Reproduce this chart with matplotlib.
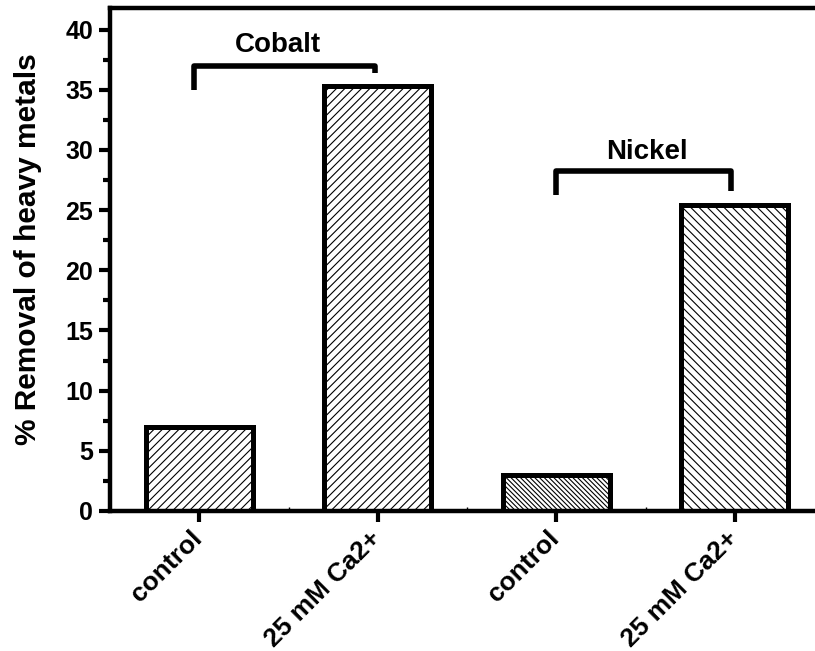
"""Bar chart: % removal of cobalt and nickel, control vs 25 mM Ca2+."""

import matplotlib

matplotlib.use("Agg")
from matplotlib import pyplot as plt  # noqa: E402
from matplotlib import transforms  # noqa: E402
from matplotlib.ticker import MultipleLocator  # noqa: E402

plt.rcParams["font.family"] = ["Liberation Sans", "DejaVu Sans"]
plt.rcParams["font.weight"] = "bold"
plt.rcParams["hatch.linewidth"] = 0.8

categories = ["control", "25 mM Ca2+", "control", "25 mM Ca2+"]
removal = [7.0, 35.3, 3.0, 25.4]
hatches = ["////", "////", "\\" * 7, "\\" * 4]
groups = ["Cobalt", "Nickel"]

fig = plt.figure(figsize=(8.15, 6.51), dpi=100)
ax = fig.add_axes([110 / 815, 140 / 651, 714 / 815, 503 / 651])

positions = list(range(1, len(categories) + 1))
for x, h, hatch in zip(positions, removal, hatches):
    ax.bar(x, h, width=0.6, facecolor="white", edgecolor="black",
           linewidth=3.6, hatch=hatch, zorder=2)

# group brackets
bracket_lw = 4.0
ax.plot([0.97, 0.97, 1.985, 1.985], [35.0, 36.95, 36.95, 36.4],
        color="black", lw=bracket_lw, solid_capstyle="butt", clip_on=False)
ax.text(1.44, 38.75, groups[0], ha="center", va="center", fontsize=20,
        fontweight="bold")
ax.plot([3.0, 3.0, 3.98, 3.98], [26.3, 28.25, 28.25, 26.6],
        color="black", lw=bracket_lw, solid_capstyle="butt", clip_on=False)
ax.text(3.51, 29.85, groups[1], ha="center", va="center", fontsize=20,
        fontweight="bold")

ax.set_xlim(0.5, 4.5)
ax.set_ylim(0, 41.8)
ax.set_xticks(positions)
ax.set_xticklabels(categories, rotation=45, ha="right", va="top",
                   rotation_mode="anchor", fontsize=19, fontweight="bold")
ax.xaxis.set_minor_locator(MultipleLocator(1.0, offset=0.5))
ax.yaxis.set_major_locator(MultipleLocator(5))
ax.yaxis.set_minor_locator(MultipleLocator(2.5))
for lbl in ax.get_yticklabels():
    lbl.set_fontsize(18)
    lbl.set_fontweight("bold")

ax.tick_params(axis="y", which="major", direction="out", length=8,
               width=3, pad=4)
ax.tick_params(axis="x", which="major", direction="out", length=8,
               width=3, pad=3)
ax.tick_params(axis="y", which="minor", direction="out", length=5, width=3)
ax.tick_params(axis="x", which="minor", direction="in", length=3, width=1)

# nudge the rotated labels so their ends sit under the ticks
# (after tick_params, which resets label transforms)
shift = transforms.ScaledTranslation(-0.09, 0, fig.dpi_scale_trans)
for lbl in ax.get_xticklabels():
    lbl.set_transform(lbl.get_transform() + shift)

for side in ("left", "bottom", "top"):
    ax.spines[side].set_linewidth(3.2)
ax.spines["right"].set_visible(False)

ax.set_ylabel("% Removal of heavy metals", fontsize=21.5, fontweight="bold",
              labelpad=17)
ax.yaxis.label.set_y(0.521)

fig.savefig("out.png", dpi=100)
